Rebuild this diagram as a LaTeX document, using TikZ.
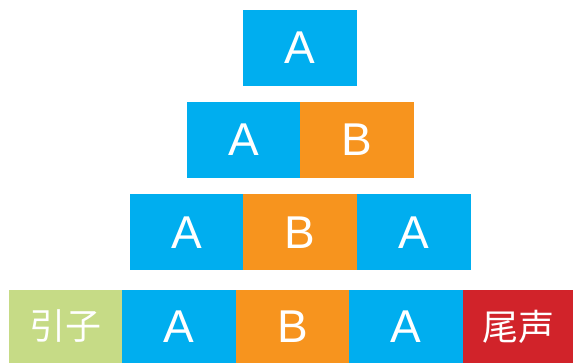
\documentclass[tikz,border=0pt]{standalone}
\usepackage{fontspec}
\setmainfont{Liberation Sans}
\newfontfamily\cjk{Noto Sans CJK SC}
\definecolor{cblue}{HTML}{00AEEF}
\definecolor{corange}{HTML}{F7941E}
\definecolor{cgreen}{HTML}{C6DB86}
\definecolor{cred}{HTML}{D1232A}
\begin{document}
\begin{tikzpicture}[x=1pt,y=-1pt,
  blk/.style={draw=none,inner sep=0pt,minimum width=114pt,minimum height=76pt,text=white,font=\fontsize{46}{46}\selectfont},
  cjkblk/.style={blk,font=\cjk\fontsize{36}{36}\selectfont}]
\useasboundingbox (0,0) rectangle (573,363);
% row 1
\node[blk,fill=cblue] (r1a) at (300,48) {A};
% row 2
\node[blk,fill=cblue,minimum width=113pt] (r2a) at (243.5,140) {A};
\node[blk,fill=corange] (r2b) at (357,140) {B};
% row 3
\node[blk,fill=cblue,minimum width=113pt] (r3a) at (186.5,232.5) {A};
\node[blk,fill=corange] (r3b) at (300,232.5) {B};
\node[blk,fill=cblue] (r3c) at (414,232.5) {A};
% row 4
\node[cjkblk,fill=cgreen,minimum width=113pt,minimum height=73pt] (intro) at (65.5,326.5) {引子};
\node[blk,fill=cblue,minimum width=114pt,minimum height=73pt] (r4a) at (179,326.5) {A};
\node[blk,fill=corange,minimum width=113pt,minimum height=73pt] (r4b) at (292.5,326.5) {B};
\node[blk,fill=cblue,minimum width=114pt,minimum height=73pt] (r4c) at (406,326.5) {A};
\node[cjkblk,fill=cred,minimum width=110pt,minimum height=73pt] (outro) at (518,326.5) {尾声};
\end{tikzpicture}
\end{document}
